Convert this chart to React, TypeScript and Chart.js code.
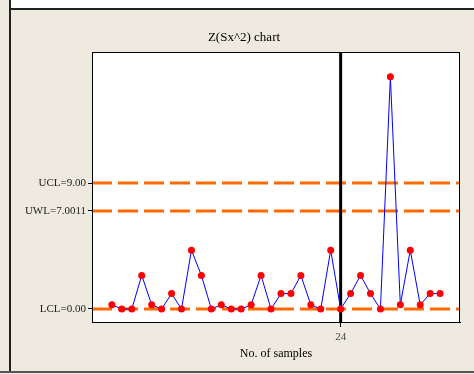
import React, { useEffect, useRef } from "react";
import { Chart, registerables } from "chart.js";

Chart.register(...registerables);

const CHART_TITLE = "Z(Sx^2) chart";
const X_TITLE = "No. of samples";
const SAMPLES = [1, 2, 3, 4, 5, 6, 7, 8, 9, 10, 11, 12, 13, 14, 15, 16, 17, 18, 19, 20, 21, 22, 23, 24, 25, 26, 27, 28, 29, 30, 31, 32, 33, 34];
const VALUES = [0.3, 0, 0, 2.4, 0.3, 0, 1.1, 0, 4.2, 2.4, 0, 0.3, 0, 0, 0.3, 2.4, 0, 1.1, 1.1, 2.4, 0.3, 0, 4.2, 0, 1.1, 2.4, 1.1, 0, 16.6, 0.3, 4.2, 0.3, 1.1, 1.1];
const LIMIT_VALUES = [0, 7.0011, 9];
const LIMIT_LABELS = ["LCL=0.00", "UWL=7.0011", "UCL=9.00"];
const X_TICKS = [24];
const MARKER_SAMPLE = 24;
const X_MIN = -1;
const X_MAX = 36;
const Y_MIN = -0.93;
const Y_MAX = 18.36;

const BEIGE = "#EEEAE0";
const FONT = "'Liberation Serif', 'Times New Roman', serif";

const framePlugin = {
  id: "frame",
  beforeDraw(chart: any) {
    const { ctx, width, height, chartArea } = chart;
    ctx.save();
    ctx.fillStyle = BEIGE;
    ctx.fillRect(0, 0, width, height);
    ctx.fillStyle = "#FFFFFF";
    ctx.fillRect(10, 0, width - 10, 8);
    ctx.strokeStyle = "#222";
    ctx.lineWidth = 2;
    ctx.beginPath();
    ctx.moveTo(10, 0);
    ctx.lineTo(10, 371);
    ctx.moveTo(10, 9);
    ctx.lineTo(width, 9);
    ctx.stroke();
    ctx.strokeStyle = "#555";
    ctx.beginPath();
    ctx.moveTo(0, 372);
    ctx.lineTo(width, 372);
    ctx.stroke();
    ctx.fillStyle = "#FFFFFF";
    ctx.fillRect(chartArea.left, chartArea.top, chartArea.right - chartArea.left, chartArea.bottom - chartArea.top);
    ctx.restore();
  },
  afterDraw(chart: any) {
    const { ctx, chartArea } = chart;
    ctx.save();
    ctx.strokeStyle = "#000";
    ctx.lineWidth = 1;
    ctx.strokeRect(chartArea.left + 0.5, chartArea.top + 0.5, chartArea.right - chartArea.left - 1, chartArea.bottom - chartArea.top);
    ctx.fillStyle = "#000";
    ctx.font = "13px " + FONT;
    ctx.textAlign = "center";
    ctx.textBaseline = "middle";
    ctx.fillText(CHART_TITLE, 244, 38);
    ctx.restore();
  },
};

export default function App() {
  const ref = useRef<HTMLCanvasElement | null>(null);
  useEffect(() => {
    if (!ref.current) return;
    const points = SAMPLES.map((s, i) => ({ x: s, y: VALUES[i] }));
    const limitSet = (v: number) => ({
      data: [{ x: X_MIN, y: v }, { x: X_MAX, y: v }],
      showLine: true,
      borderColor: "#FF6A00",
      borderWidth: 3,
      borderDash: [20, 6],
      pointRadius: 0,
      order: 3,
    });
    const chart = new Chart(ref.current, {
      type: "scatter",
      data: {
        datasets: [
          {
            data: points,
            showLine: true,
            borderColor: "#0000FF",
            borderWidth: 1,
            pointRadius: 3.5,
            pointBackgroundColor: "#FF0000",
            pointBorderColor: "#FF0000",
            pointBorderWidth: 0,
            order: 1,
          },
          {
            data: [{ x: MARKER_SAMPLE, y: Y_MIN }, { x: MARKER_SAMPLE, y: Y_MAX }],
            showLine: true,
            borderColor: "#000000",
            borderWidth: 3,
            pointRadius: 0,
            order: 2,
          },
          ...LIMIT_VALUES.map(limitSet),
        ] as any,
      },
      plugins: [framePlugin],
      options: {
        animation: false,
        responsive: false,
        devicePixelRatio: 1,
        layout: { padding: { left: 0, top: 52, right: 14, bottom: 0 } },
        plugins: { legend: { display: false }, tooltip: { enabled: false }, title: { display: false } },
        scales: {
          x: {
            type: "linear",
            min: X_MIN,
            max: X_MAX,
            afterBuildTicks: (s: any) => { s.ticks = X_TICKS.map((v) => ({ value: v })); },
            afterFit: (s: any) => { s.height = 52; },
            ticks: { autoSkip: false, color: "#444", padding: 4, maxRotation: 0, font: { family: FONT, size: 11 } },
            grid: { display: true, drawOnChartArea: false, tickLength: 5, color: "#000" },
            border: { display: true, color: "#000" },
            title: { display: true, text: X_TITLE, color: "#000", font: { family: FONT, size: 12 }, padding: { top: 0, bottom: 13 } },
          },
          y: {
            type: "linear",
            min: Y_MIN,
            max: Y_MAX,
            afterBuildTicks: (s: any) => { s.ticks = LIMIT_VALUES.map((v) => ({ value: v })); },
            afterFit: (s: any) => { s.width = 92; },
            ticks: {
              autoSkip: false,
              color: "#222",
              padding: 2,
              font: { family: FONT, size: 11 },
              callback: (_v: any, i: number) => LIMIT_LABELS[i],
            },
            grid: { display: true, drawOnChartArea: false, tickLength: 4, color: "#000" },
            border: { display: true, color: "#000" },
          },
        },
      },
    } as any);
    return () => chart.destroy();
  }, []);
  return (
    <div style={{ position: "absolute", left: 0, top: 0, width: 474, height: 374 }}>
      <canvas ref={ref} width={474} height={374} style={{ display: "block", width: 474, height: 374 }} />
    </div>
  );
}
